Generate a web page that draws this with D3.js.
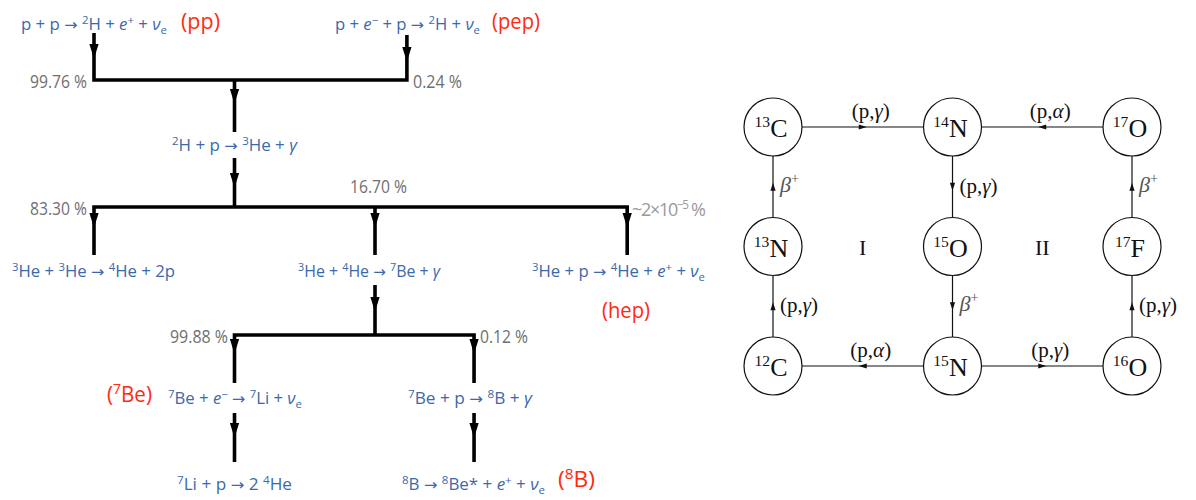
<!DOCTYPE html>
<html><head><meta charset="utf-8">
<script src="https://cdn.jsdelivr.net/npm/d3@7"></script>
<style>html,body{margin:0;padding:0;background:#fff;} svg{display:block;}</style>
</head><body>
<svg id="c" width="1196" height="500"></svg>
<script>
// ================= DATA =================
// pp chain reactions (markup: ^{..} superscript, _{..} subscript, $..$ italic)
const ppReactionIds = ["pp","pep","d","he3he3","he3he4","hep","be7e","be7p","li7p","b8"];
const ppReactions = [
  "p + p → ^{2}H + $e$^{+} + $ν$_{e}",
  "p + $e$^{−} + p → ^{2}H + $ν$_{e}",
  "^{2}H + p → ^{3}He + $γ$",
  "^{3}He + ^{3}He  → ^{4}He + 2p",
  "^{3}He + ^{4}He  → ^{7}Be + $γ$",
  "^{3}He + p → ^{4}He + $e$^{+} + $ν$_{e}",
  "^{7}Be + $e$^{−} → ^{7}Li + $ν$_{e}",
  "^{7}Be + p → ^{8}B + $γ$",
  "^{7}Li + p → 2 ^{4}He",
  "^{8}B → ^{8}Be* + $e$^{+} + $ν$_{e}"
];
const neutrinoTagIds = ["pp","pep","hep","be7e","b8"];
const neutrinoTags = ["(pp)","(pep)","(hep)","(^{7}Be)","(^{8}B)"];
const branchIds = ["pp","pep","he3he3","he3he4","hep","be7e","be7p"];
const branchFractions = [99.76, 0.24, 83.30, 16.70, 2e-5, 99.88, 0.12];
const branchLabels = ["99.76 %","0.24 %","83.30 %","16.70 %","~2×10^{−5} %","99.88 %","0.12 %"];

// CNO cycle (nodes listed row by row, 3 per row)
const cnoNodes = ["^{13}C","^{14}N","^{17}O","^{13}N","^{15}O","^{17}F","^{12}C","^{15}N","^{16}O"];
const cnoEdgeFrom  = ["^{12}C","^{13}N","^{13}C","^{14}N","^{15}O","^{15}N","^{15}N","^{16}O","^{17}F","^{17}O"];
const cnoEdgeTo    = ["^{13}N","^{13}C","^{14}N","^{15}O","^{15}N","^{12}C","^{16}O","^{17}F","^{17}O","^{14}N"];
const cnoEdgeLabel = ["(p,$γ$)","$β$^{+}","(p,$γ$)","(p,$γ$)","$β$^{+}","(p,$α$)","(p,$γ$)","(p,$γ$)","$β$^{+}","(p,$α$)"];
const cnoCycles = ["I","II"];

// ================= HELPERS =================
const svg = d3.select("#c");
function rich(textSel, str, size, supScale, supShift, subShift, arrowFont) {
  const raw = str.split(/(\^\{[^}]*\}|_\{[^}]*\}|\$[^$]*\$|→)/).filter(s => s.length);
  let cur = 0;
  raw.forEach(p => {
    let t = p, kind = "n";
    if (p.startsWith("^{")) { t = p.slice(2, -1); kind = "sup"; }
    else if (p.startsWith("_{")) { t = p.slice(2, -1); kind = "sub"; }
    else if (p.startsWith("$")) { t = p.slice(1, -1); kind = "it"; }
    else if (p === "→") { kind = "arrow"; }
    const target = kind === "sup" ? -supShift : kind === "sub" ? subShift : 0;
    const ts = textSel.append("tspan").text(t).attr("dy", target - cur);
    cur = target;
    if (kind === "sup" || kind === "sub") ts.attr("font-size", size * supScale);
    if (kind === "it") ts.attr("font-style", "italic");
    if (kind === "arrow" && arrowFont) ts.attr("font-family", arrowFont).attr("font-size", size * 0.95);
  });
}

// ================= PP CHAIN =================
const SANS = "'Open Sans', 'Noto Sans', sans-serif";
const ARROWF = "'DejaVu Sans', sans-serif";
const BLUE = "#3b69aa", RED = "#ff2a10", GRAY = "#6f6f6f";
const col = d3.scaleLinear().domain([0, 1]).range([94, 234.5]);
const colOf = { pp: 0, d: 1, he4: 2, pep: 2.227, b8: 2.705, hep: 3.795 };
const level = d3.scaleOrdinal()
  .domain(["r0","bar0","r1","bar1","r2","bar2","r3","r4"])
  .range([30, 80, 151, 207, 277, 335, 404, 490]);

// connector paths
const ppG = svg.append("g").attr("fill", "none").attr("stroke", "#000")
  .attr("stroke-width", 3.6).attr("stroke-linejoin", "miter");
const pathsDef = [
  [[col(colOf.pp), 33], [col(colOf.pp), level("bar0")], [col(colOf.pep), level("bar0")], [col(colOf.pep), 35]],
  [[col(colOf.d), level("bar0")], [col(colOf.d), 132]],
  [[col(colOf.d), 158], [col(colOf.d), level("bar1")]],
  [[col(colOf.pp), 255], [col(colOf.pp), level("bar1")], [col(colOf.hep), level("bar1")], [col(colOf.hep), 255]],
  [[col(colOf.he4), level("bar1")], [col(colOf.he4), 255]],
  [[col(colOf.he4), 285], [col(colOf.he4), level("bar2")]],
  [[col(colOf.d), 383], [col(colOf.d), level("bar2")], [col(colOf.b8), level("bar2")], [col(colOf.b8), 383]],
  [[col(colOf.d), 413], [col(colOf.d), 462]],
  [[col(colOf.b8), 413], [col(colOf.b8), 462]]
];
const line = d3.line();
ppG.selectAll("path").data(pathsDef).join("path").attr("d", line);

// arrowheads (x column, tip y)
const arrowTips = [
  [colOf.pp, 59], [colOf.pep, 62], [colOf.d, 104], [colOf.d, 188],
  [colOf.pp, 228], [colOf.he4, 228], [colOf.hep, 228], [colOf.he4, 312],
  [colOf.d, 354], [colOf.b8, 354], [colOf.d, 438], [colOf.b8, 438]
];
svg.append("g").selectAll("path").data(arrowTips).join("path")
  .attr("d", d => { const x = col(d[0]), y = d[1];
    return `M${x},${y} L${x - 4.6},${y - 15} L${x + 4.6},${y - 15} Z`; })
  .attr("fill", "#000");

// reaction texts layout: [centre x, baseline level, width]
const rxLayout = {
  pp: [94, "r0", 146], pep: [407.5, "r0", 145], d: [234.5, "r1", 125],
  he3he3: [93.5, "r2", 163], he3he4: [369, "r2", 142], hep: [618.5, "r2", 173],
  be7e: [235, "r3", 134], be7p: [470, "r3", 124], li7p: [234.5, "r4", 115], b8: [473.5, "r4", 143]
};
ppReactionIds.forEach((id, i) => {
  const [cx, lv, w] = rxLayout[id];
  const t = svg.append("text").attr("x", cx - w / 2).attr("y", level(lv))
    .attr("font-family", SANS).attr("font-size", 16).attr("fill", BLUE)
    .attr("textLength", w).attr("lengthAdjust", "spacingAndGlyphs");
  rich(t, ppReactions[i], 16, 0.68, 6, 4, ARROWF);
});

// neutrino tags layout: [x0, baseline, width]
const tagLayout = { pp: [181, 29, 39], pep: [492, 29, 48], hep: [602, 318, 48], be7e: [107, 402, 45], b8: [558, 487, 37] };
neutrinoTagIds.forEach((id, i) => {
  const [x0, y, w] = tagLayout[id];
  const t = svg.append("text").attr("x", x0).attr("y", y)
    .attr("font-family", SANS).attr("font-size", 21).attr("fill", RED)
    .attr("textLength", w).attr("lengthAdjust", "spacingAndGlyphs");
  rich(t, neutrinoTags[i], 21, 0.68, 8, 4);
});

// branch percentages layout: [x0, baseline, width, colour, size]
const brLayout = {
  pp: [30, 88, 57], pep: [413, 88, 49], he3he3: [30, 215, 57], he3he4: [350, 193, 57],
  hep: [632, 216, 0, "#9a9a9a", 18], be7e: [170, 343, 58], be7p: [480, 343, 48]
};
branchIds.forEach((id, i) => {
  const [x0, y, w, c, s] = brLayout[id];
  const fs = s || 19;
  const t = svg.append("text").attr("x", x0).attr("y", y)
    .attr("font-family", SANS).attr("font-size", fs).attr("fill", c || GRAY)
    .attr("data-value", branchFractions[i]);
  if (w) t.attr("textLength", w).attr("lengthAdjust", "spacingAndGlyphs");
  else t.attr("letter-spacing", -1.3);
  rich(t, branchLabels[i], fs, 0.65, 7, 4);
});

// ================= CNO CYCLE =================
const SERIF = "'Liberation Serif', 'DejaVu Serif', serif";
const gx = d3.scalePoint().domain([0, 1, 2]).range([773, 1132]);
const gy = d3.scalePoint().domain([0, 1, 2]).range([127, 366]);
const R = 29;
const pos = {};
cnoNodes.forEach((n, i) => { pos[n] = [gx(i % 3), gy(Math.floor(i / 3))]; });

const cno = svg.append("g");
// edges
cnoEdgeFrom.forEach((f, i) => {
  const [x1, y1] = pos[f], [x2, y2] = pos[cnoEdgeTo[i]];
  const dx = Math.sign(x2 - x1), dy = Math.sign(y2 - y1);
  cno.append("line")
    .attr("x1", x1 + dx * R).attr("y1", y1 + dy * R)
    .attr("x2", x2 - dx * R).attr("y2", y2 - dy * R)
    .attr("stroke", "#111").attr("stroke-width", 1.2);
  const mx = (x1 + x2) / 2, my = (y1 + y2) / 2;
  const tx = mx + dx * 4, ty = my + dy * 4, L = 8, hw = 2.6;
  const bx = tx - dx * L, by = ty - dy * L;
  cno.append("path")
    .attr("d", `M${tx},${ty} L${bx - dy * hw},${by - dx * hw} L${bx + dy * hw},${by + dx * hw} Z`)
    .attr("fill", "#111");
  const isBeta = cnoEdgeLabel[i].includes("β");
  const fs = isBeta ? 22 : 21;
  const t = cno.append("text").attr("font-family", SERIF).attr("font-size", fs)
    .attr("fill", isBeta ? "#555" : "#111");
  if (dy === 0) {
    t.attr("x", mx + 8).attr("y", y1 - 9).attr("text-anchor", "middle");
  } else {
    t.attr("x", x1 + 7).attr("y", my + (isBeta ? 5 : 6)).attr("text-anchor", "start");
  }
  rich(t, cnoEdgeLabel[i], fs, 0.65, 9, 4);
});
// nodes
cnoNodes.forEach(n => {
  const [x, y] = pos[n];
  cno.append("circle").attr("cx", x).attr("cy", y).attr("r", R)
    .attr("fill", "#fff").attr("stroke", "#111").attr("stroke-width", 1.2);
  const t = cno.append("text").attr("x", x - 2).attr("y", y + 10).attr("text-anchor", "middle")
    .attr("font-family", SERIF).attr("font-size", 26).attr("fill", "#111");
  rich(t, n, 26, 0.6, 10, 4);
});
// cycle labels
cnoCycles.forEach((c, i) => {
  cno.append("text").attr("x", (gx(i) + gx(i + 1)) / 2).attr("y", gy(1) + 8)
    .attr("text-anchor", "middle").attr("font-family", SERIF).attr("font-size", 22)
    .attr("fill", "#111").text(c);
});
</script>
</body></html>
